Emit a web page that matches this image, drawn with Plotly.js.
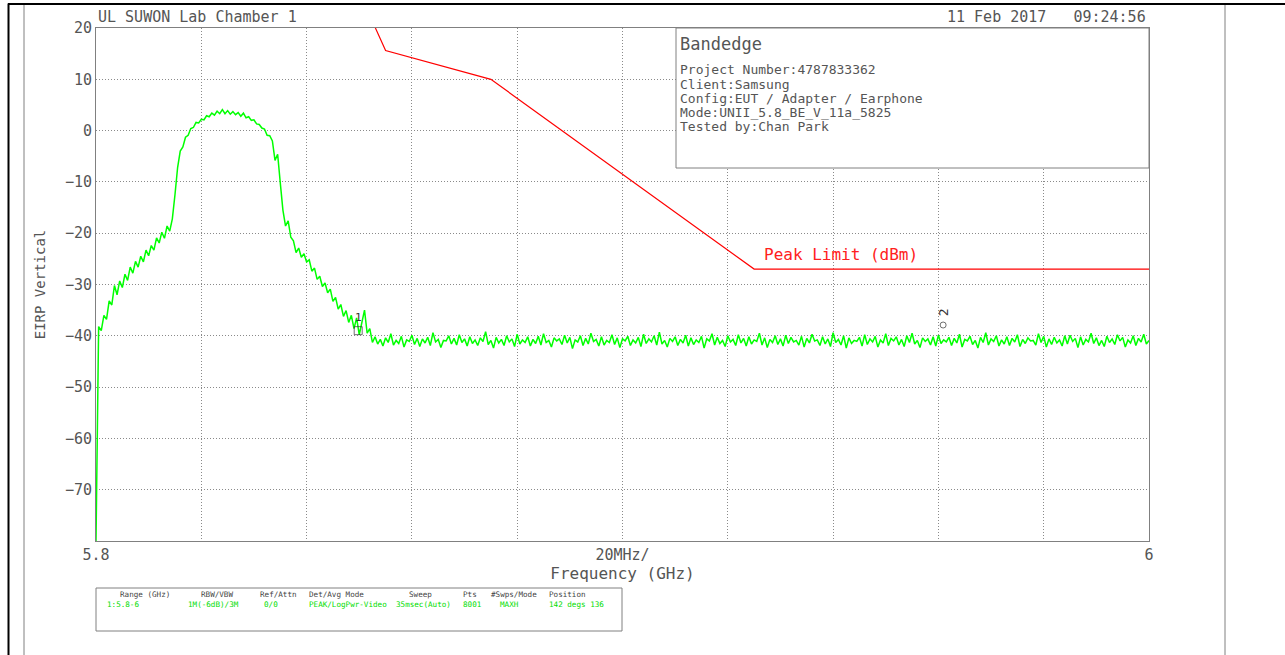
<!DOCTYPE html>
<html>
<head>
<meta charset="utf-8">
<script src="https://cdn.plot.ly/plotly-3.0.1.min.js"></script>
<style>
  html, body { margin: 0; padding: 0; background: #ffffff; }
  #chart { width: 1285px; height: 655px; }
</style>
</head>
<body>
<div id="chart"></div>
<script>
// ---------------- DATA ----------------
const sweepStartGHz = 5.8;
const sweepStepGHz = 0.0005;

// Measured trace (dBm), one value per sweep step from 5.800 GHz
const traceLevelDbm = [
  -80,
  -38.2,-39.0,-36.0,-36.8,-33.2,-34.0,-30.2,-32.0,-29.3,-30.6,
  -28.0,-29.2,-26.6,-27.8,-25.5,-26.6,-24.5,-25.6,-23.3,-24.4,
  -22.4,-23.3,-20.9,-21.9,-19.8,-21.0,-18.6,-19.6,-17.2,-12.5,
  -7.2,-4.0,-3.2,-1.3,-0.9,0.4,0.6,1.6,1.5,2.2,
  2.1,2.9,2.7,3.4,3.0,3.8,3.3,4.1,3.3,3.9,
  3.2,3.7,3.1,3.5,2.8,3.4,2.5,2.7,2.0,2.1,
  1.3,1.2,0.5,0.3,-0.9,-1.0,-2.0,-5.8,-4.6,-10.2,
  -15.5,-18.6,-17.6,-20.8,-21.5,-23.8,-22.9,-24.7,-24.0,-25.6,
  -25.2,-27.4,-26.8,-29.0,-28.4,-30.4,-29.7,-31.6,-30.9,-33.3,
  -32.5,-34.8,-33.9,-36.2,-35.1,-37.4,-36.0,-38.6,-36.5,-39.8,
  -37.0,-35.0,-39.5,-38.6,-41.3,
  -40.2,-41.6,-40.7,-42.0,-40.4,-41.3,-39.6,-41.8,-40.9,-41.5,-40.1,-42.2,-40.8,-41.1,-39.9,-41.7,-40.5,-42.1,-40.6,-41.4,
  -40.3,-41.9,-39.4,-41.2,-40.7,-42.3,-40.9,-41.0,-40.0,-41.6,-40.5,-41.8,-39.8,-41.3,-40.6,-42.0,-40.2,-41.5,-40.8,-41.9,
  -40.4,-41.1,-39.2,-41.7,-40.9,-42.4,-40.3,-41.4,-40.7,-41.9,-40.0,-41.2,-40.6,-42.1,-39.7,-41.6,-40.8,-41.3,-40.2,-42.0,
  -40.7,-41.5,-40.1,-41.8,-39.6,-41.3,-40.9,-42.2,-40.4,-41.0,-40.6,-41.7,-39.9,-41.4,-40.3,-42.5,-40.8,-41.2,-40.0,-41.9,
  -40.5,-41.6,-39.5,-41.1,-40.7,-42.0,-40.2,-41.8,-40.9,-41.3,-39.8,-41.7,-40.4,-42.3,-40.6,-41.0,-40.1,-41.9,-40.8,-41.4,
  -40.3,-42.1,-39.7,-41.5,-40.6,-41.2,-40.0,-41.8,-39.3,-41.6,-40.9,-42.2,-40.5,-41.1,-40.2,-41.9,-40.7,-41.4,-39.9,-42.0,
  -40.4,-41.7,-40.8,-41.3,-40.1,-42.4,-40.6,-41.0,-39.6,-41.8,-40.3,-41.5,-40.9,-42.1,-40.0,-41.2,-40.7,-41.9,-39.8,-41.4,
  -40.5,-42.0,-40.2,-41.6,-40.8,-41.1,-39.5,-41.8,-40.4,-42.3,-40.7,-41.3,-40.0,-41.7,-40.6,-42.0,-39.9,-41.5,-40.3,-41.2,
  -40.9,-41.8,-40.1,-42.2,-40.5,-41.4,-39.7,-41.0,-40.8,-41.9,-40.2,-41.6,-40.6,-42.1,-39.4,-41.3,-40.7,-41.8,-40.0,-42.4,
  -40.4,-41.5,-40.9,-41.1,-40.3,-42.0,-39.8,-41.7,-40.6,-41.2,-40.1,-42.2,-40.8,-41.4,-39.6,-41.9,-40.5,-41.0,-40.2,-41.8,
  -40.7,-42.1,-40.0,-41.3,-39.5,-41.6,-40.9,-42.3,-40.4,-41.1,-40.6,-41.8,-40.2,-42.0,-39.9,-41.5,-40.8,-41.2,-40.3,-41.9,
  -40.5,-41.4,-39.7,-42.2,-40.7,-41.0,-40.1,-41.7,-40.9,-42.4,-40.3,-41.3,-39.4,-41.8,-40.6,-41.1,-40.0,-42.0,-40.8,-41.6,
  -40.2,-41.9,-40.5,-41.2,-39.8,-42.1,-40.7,-41.5,-40.4,-41.0,-40.9,-41.8,-39.6,-41.3,-40.1,-42.2,-40.6,-41.7,-40.3,-41.4,
  -40.8,-42.0,-40.0,-41.6,-39.9,-41.1,-40.5,-42.3,-40.2,-41.8,-40.7,-41.2,-39.5,-41.5,-40.4,-41.9,-40.9,-42.1,-40.1,-41.3,
  -40.6,-41.7,-39.8,-41.0,-40.3,-42.2,-40.8,-41.4,-40.0,-41.9,-40.5,-41.2,-39.7,-41.6,-40.9
];

// Peak limit line
const limitFreqGHz = [5.850, 5.855, 5.875, 5.925, 6.000];
const limitLevelDbm = [27, 15.6, 10, -27, -27];

// Markers
const markerFreqGHz = [5.8498, 5.9609];
const markerLevelDbm = [-39.0, -37.9];
const markerLabels = ['1', '2'];

// Axis ticks
const xTickVals = [5.80, 5.82, 5.84, 5.86, 5.88, 5.90, 5.92, 5.94, 5.96, 5.98, 6.00];
const xTickText = ['5.8', '', '', '', '', '20MHz/', '', '', '', '', '6'];
const yTickVals = [-80, -70, -60, -50, -40, -30, -20, -10, 0, 10, 20];
const yTickText = ['', '\u221270', '\u221260', '\u221250', '\u221240', '\u221230', '\u221220', '\u221210', '0', '10', '20'];

// Text
const headerLeft = 'UL SUWON Lab Chamber 1';
const headerRight = '11 Feb 2017   09:24:56';
const infoTitle = 'Bandedge';
const infoLines = [
  'Project Number:4787833362',
  'Client:Samsung',
  'Config:EUT / Adapter / Earphone',
  'Mode:UNII_5.8_BE_V_11a_5825',
  'Tested by:Chan Park'
];
const limitLabel = 'Peak Limit (dBm)';
const tableHeaders = ['Range (GHz)', 'RBW/VBW', 'Ref/Attn', 'Det/Avg Mode', 'Sweep', 'Pts', '#Swps/Mode', 'Position'];
const tableValues = ['1:5.8-6', '1M(-6dB)/3M', '0/0', 'PEAK/LogPwr-Video', '35msec(Auto)', '8001', 'MAXH', '142 degs 136'];

// ---------------- LAYOUT ----------------
const W = 1285, H = 655;
const PL = 96, PR = 1149, PT = 28, PB = 541;
const X = px => (px - PL) / (PR - PL);
const Y = py => (PB - py) / (PB - PT);
const MONO = '"DejaVu Sans Mono", "Liberation Mono", monospace';
const TXT = '#555555';

const traces = [
  {
    type: 'scatter', mode: 'lines',
    x0: sweepStartGHz, dx: sweepStepGHz, y: traceLevelDbm,
    line: { color: '#00ff00', width: 1.5 },
    hoverinfo: 'skip'
  },
  {
    type: 'scatter', mode: 'lines',
    x: limitFreqGHz, y: limitLevelDbm,
    line: { color: '#ff0000', width: 1.2 },
    hoverinfo: 'skip'
  },
  {
    type: 'scatter', mode: 'markers',
    x: markerFreqGHz, y: markerLevelDbm,
    marker: { symbol: ['square-open', 'circle-open'], size: [8, 6], color: '#333333', line: { width: 1 } },
    hoverinfo: 'skip'
  }
];

const annotations = [];
function addText(text, x, y, opts) {
  annotations.push(Object.assign({
    text, x, y, xref: 'paper', yref: 'paper', showarrow: false,
    xanchor: 'left', yanchor: 'middle',
    font: { family: MONO, size: 13, color: TXT }
  }, opts || {}));
}

addText(headerLeft, X(96), Y(17), { font: { family: MONO, size: 15, color: TXT } });
addText(headerRight, X(1148), Y(17), { xanchor: 'right', font: { family: MONO, size: 15, color: TXT } });
addText(infoTitle, X(678), Y(44), { font: { family: MONO, size: 17, color: TXT } });
const infoY = [69, 84, 98, 112, 126];
infoLines.forEach((t, i) => addText(t, X(678), Y(infoY[i]), { font: { family: MONO, size: 13, color: TXT } }));

annotations.push({
  text: limitLabel, x: 5.9265, y: -24.2, xref: 'x', yref: 'y', showarrow: false,
  xanchor: 'left', yanchor: 'middle', font: { family: MONO, size: 16, color: '#ff2020' }
});
annotations.push({
  text: markerLabels[0], x: markerFreqGHz[0], y: markerLevelDbm[0], xref: 'x', yref: 'y',
  showarrow: false, yshift: 13, font: { family: MONO, size: 11, color: '#333' }
});
annotations.push({
  text: markerLabels[1], x: markerFreqGHz[1], y: markerLevelDbm[1], xref: 'x', yref: 'y',
  showarrow: false, yshift: 13, textangle: -90, font: { family: MONO, size: 13, color: '#333' }
});

const hdrX = [118, 199, 258, 307, 407, 461, 489, 547];
const valX = [105, 186, 262, 307, 394, 461, 498, 547];
tableHeaders.forEach((t, i) => addText(t, X(hdrX[i]), Y(594), { font: { family: MONO, size: 7.6, color: '#444' } }));
tableValues.forEach((t, i) => addText(t, X(valX[i]), Y(604), { font: { family: MONO, size: 7.6, color: '#00dd00' } }));

const shapes = [
  // outer frame
  { type: 'line', xref: 'paper', yref: 'paper', x0: X(8.5), x1: X(8.5), y0: Y(655), y1: Y(3.5), line: { color: '#000', width: 2 } },
  { type: 'line', xref: 'paper', yref: 'paper', x0: X(8), x1: X(1285), y0: Y(4), y1: Y(4), line: { color: '#000', width: 2 } },
  { type: 'line', xref: 'paper', yref: 'paper', x0: X(24), x1: X(24), y0: Y(655), y1: Y(5), line: { color: '#808080', width: 1 } },
  { type: 'line', xref: 'paper', yref: 'paper', x0: X(1225), x1: X(1225), y0: Y(655), y1: Y(5), line: { color: '#808080', width: 1 } },
  // info box
  { type: 'rect', xref: 'paper', yref: 'paper', x0: X(676), x1: 1, y0: Y(168), y1: 1, layer: 'above',
    fillcolor: '#ffffff', line: { color: '#808080', width: 1 } },
  // settings table box
  { type: 'rect', xref: 'paper', yref: 'paper', x0: 0, x1: X(622), y0: Y(631), y1: Y(588),
    fillcolor: 'rgba(0,0,0,0)', line: { color: '#808080', width: 1 } }
];

const layout = {
  width: W, height: H,
  margin: { l: PL, r: W - PR, t: PT, b: H - PB, pad: 0 },
  paper_bgcolor: '#ffffff', plot_bgcolor: '#ffffff',
  showlegend: false,
  xaxis: {
    range: [5.8, 6.0], tickvals: xTickVals, ticktext: xTickText, ticks: '',
    showgrid: true, gridcolor: '#8a8a8a', griddash: '1px,2px', gridwidth: 1,
    showline: true, mirror: true, linecolor: '#808080', linewidth: 1, zeroline: false,
    tickfont: { family: MONO, size: 15, color: TXT },
    title: { text: 'Frequency (GHz)', font: { family: MONO, size: 16, color: TXT }, standoff: 2 },
    automargin: false, fixedrange: true
  },
  yaxis: {
    range: [-80, 20], tickvals: yTickVals, ticktext: yTickText, ticks: '',
    showgrid: true, gridcolor: '#8a8a8a', griddash: '1px,2px', gridwidth: 1,
    showline: true, mirror: true, linecolor: '#808080', linewidth: 1, zeroline: false,
    tickfont: { family: MONO, size: 15, color: TXT },
    title: { text: 'EIRP Vertical', font: { family: MONO, size: 14, color: TXT }, standoff: 16 },
    automargin: false, fixedrange: true
  },
  annotations, shapes
};

Plotly.newPlot('chart', traces, layout, { staticPlot: true, displayModeBar: false });
</script>
</body>
</html>
